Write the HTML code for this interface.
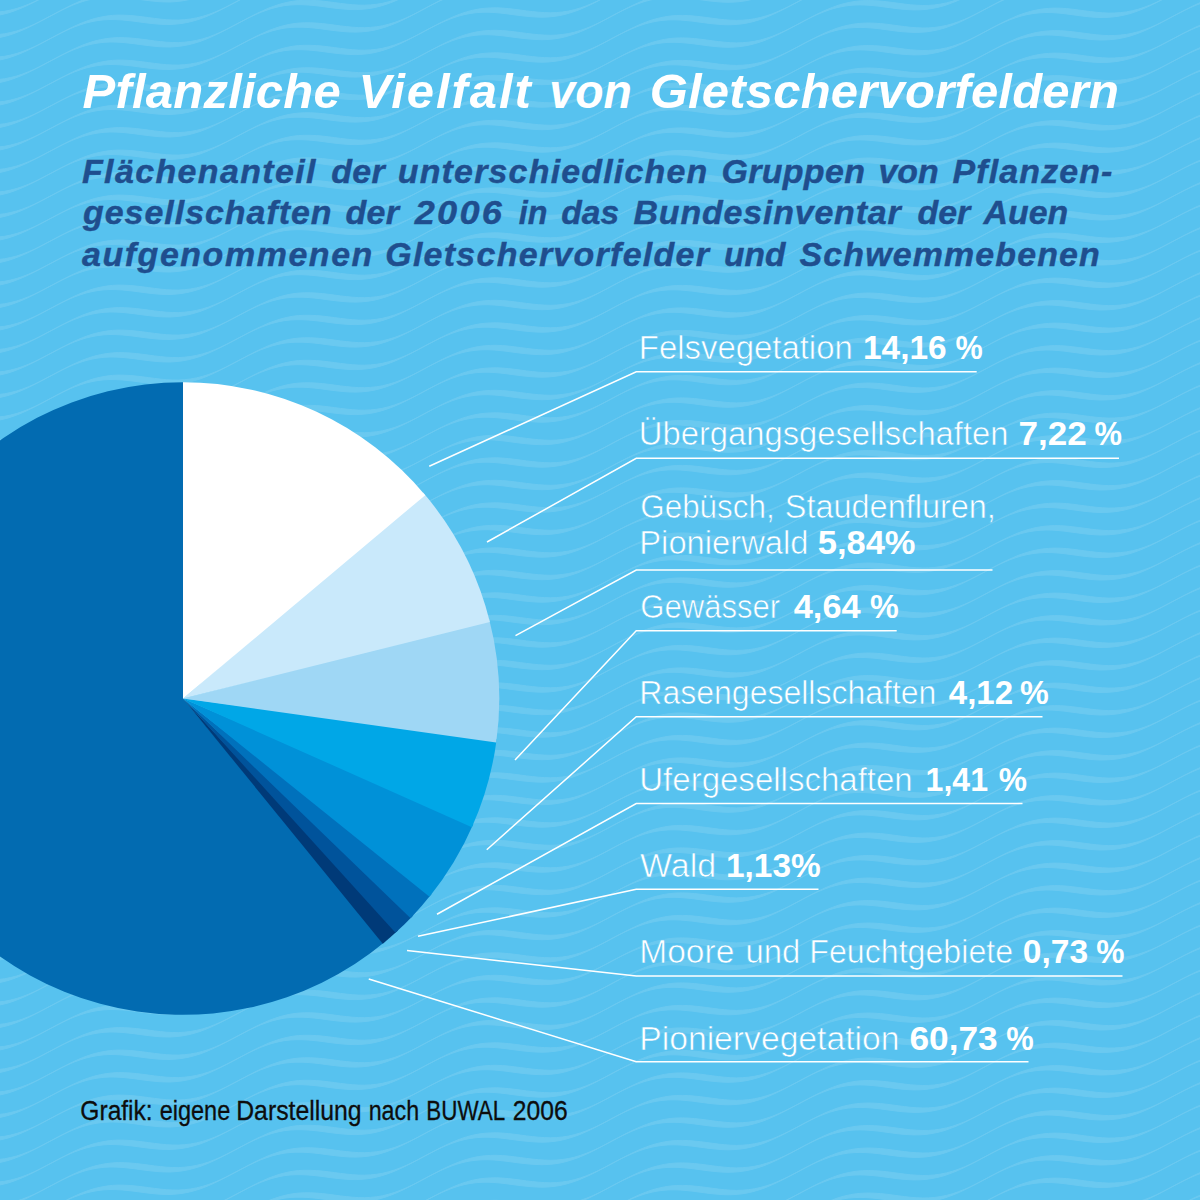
<!DOCTYPE html>
<html lang="de"><head><meta charset="utf-8"><title>Pflanzliche Vielfalt von Gletschervorfeldern</title>
<style>
html,body{margin:0;padding:0;background:#57C2EF;}
body{width:1200px;height:1200px;overflow:hidden;font-family:"Liberation Sans",sans-serif;}
svg{display:block;}
text{font-family:"Liberation Sans",sans-serif;white-space:pre;}
.n{font-size:33.5px;fill:#fff;stroke:#57C2EF;stroke-width:.6px;paint-order:fill stroke;}
.b{font-size:33.5px;font-weight:bold;fill:#fff;}
.t{font-weight:bold;font-style:italic;font-size:49px;fill:#fff;}
.s{font-weight:bold;font-style:italic;font-size:33px;fill:#1F4E8E;stroke:#1F4E8E;stroke-width:.4px;}
.f{font-size:27.5px;fill:#0d0d0d;stroke:#0d0d0d;stroke-width:.3px;}
.ld polyline{fill:none;stroke:#fff;stroke-width:1.5;stroke-linejoin:miter;}
</style></head><body>
<svg width="1200" height="1200" viewBox="0 0 1200 1200">
<defs><path id="wl" d="M-40.0 206.7L-34.0 207.4L-28.0 207.9L-22.0 208.2L-16.0 208.1L-10.0 207.7L-4.0 207.0L2.0 205.8L8.0 204.3L14.0 202.3L20.0 200.0L26.0 197.4L32.0 194.5L38.0 191.4L44.0 188.2L50.0 185.0L56.0 181.9L62.0 178.8L68.0 176.0L74.0 173.4L80.0 171.2L86.0 169.3L92.0 167.9L98.0 166.8L104.0 166.1L110.0 165.8L116.0 165.9L122.0 166.2L128.0 166.8L134.0 167.5L140.0 168.3L146.0 169.1L152.0 169.8L158.0 170.4L164.0 170.7L170.0 170.8L176.0 170.4L182.0 169.7L188.0 168.6L194.0 167.1L200.0 165.3L206.0 163.0L212.0 160.4L218.0 157.6L224.0 154.5L230.0 151.4L236.0 148.2L242.0 145.0L248.0 141.9L254.0 139.1L260.0 136.4L266.0 134.2L272.0 132.2L278.0 130.7L284.0 129.5L290.0 128.8L296.0 128.5L302.0 128.5L308.0 128.8L314.0 129.3L320.0 130.0L326.0 130.8L332.0 131.6L338.0 132.3L344.0 132.9L350.0 133.3L356.0 133.4L362.0 133.1L368.0 132.5L374.0 131.5L380.0 130.0L386.0 128.2L392.0 126.0L398.0 123.5L404.0 120.7L410.0 117.7L416.0 114.5L422.0 111.3L428.0 108.1L434.0 105.0L440.0 102.1L446.0 99.5L452.0 97.1L458.0 95.1L464.0 93.5L470.0 92.3L476.0 91.5L482.0 91.1L488.0 91.0L494.0 91.3L500.0 91.8L506.0 92.5L512.0 93.3L518.0 94.1L524.0 94.8L530.0 95.4L536.0 95.8L542.0 96.0L548.0 95.8L554.0 95.2L560.0 94.3L566.0 92.9L572.0 91.1L578.0 89.0L584.0 86.5L590.0 83.8L596.0 80.8L602.0 77.6L608.0 74.4L614.0 71.2L620.0 68.1L626.0 65.2L632.0 62.5L638.0 60.1L644.0 58.0L650.0 56.4L656.0 55.1L662.0 54.2L668.0 53.7L674.0 53.6L680.0 53.8L686.0 54.3L692.0 54.9L698.0 55.7L704.0 56.5L710.0 57.3L716.0 57.9L722.0 58.4L728.0 58.6L734.0 58.4L740.0 57.9L746.0 57.0L752.0 55.7L758.0 54.0L764.0 52.0L770.0 49.5L776.0 46.8L782.0 43.9L788.0 40.8L794.0 37.6L800.0 34.4L806.0 31.2L812.0 28.3L818.0 25.5L824.0 23.1L830.0 20.9L836.0 19.2L842.0 17.9L848.0 16.9L854.0 16.4L860.0 16.2L866.0 16.4L872.0 16.8L878.0 17.4L884.0 18.2L890.0 19.0L896.0 19.8L902.0 20.5L908.0 20.9L914.0 21.2L920.0 21.1L926.0 20.7L932.0 19.8L938.0 18.6L944.0 17.0L950.0 14.9L956.0 12.6L962.0 9.9L968.0 7.0L974.0 3.9L980.0 0.7L986.0 -2.5L992.0 -5.7L998.0 -8.7L1004.0 -11.4L1010.0 -14.0L1016.0 -16.1L1022.0 -17.9L1028.0 -19.3L1034.0 -20.3L1040.0 -20.9L1046.0 -21.2L1052.0 -21.1L1058.0 -20.7L1064.0 -20.1L1070.0 -19.3L1076.0 -18.5L1082.0 -17.7L1088.0 -17.0L1094.0 -16.5L1100.0 -16.2L1106.0 -16.3L1112.0 -16.7L1118.0 -17.4L1124.0 -18.6L1130.0 -20.1L1136.0 -22.1L1142.0 -24.4L1148.0 -27.0L1154.0 -29.9L1160.0 -33.0L1166.0 -36.2L1172.0 -39.4L1178.0 -42.5L1184.0 -45.6L1190.0 -48.4L1196.0 -51.0L1202.0 -53.2L1208.0 -55.1L1214.0 -56.5L1220.0 -57.6L1226.0 -58.3L1232.0 -58.6L1238.0 -58.5L1244.0 -58.2L1250.0 -57.6L1258.4 -62.0L1252.4 -62.6L1246.4 -62.9L1240.4 -63.0L1234.4 -62.7L1228.4 -62.0L1222.4 -60.9L1216.4 -59.5L1210.4 -57.6L1204.4 -55.4L1198.4 -52.8L1192.4 -50.0L1186.4 -46.9L1180.4 -43.8L1174.4 -40.6L1168.4 -37.4L1162.4 -34.3L1156.4 -31.4L1150.4 -28.8L1144.4 -26.5L1138.4 -24.5L1132.4 -23.0L1126.4 -21.8L1120.4 -21.1L1114.4 -20.7L1108.4 -20.6L1102.4 -20.9L1096.4 -21.4L1090.4 -22.1L1084.4 -22.9L1078.4 -23.7L1072.4 -24.5L1066.4 -25.1L1060.4 -25.5L1054.4 -25.6L1048.4 -25.3L1042.4 -24.7L1036.4 -23.7L1030.4 -22.3L1024.4 -20.5L1018.4 -18.4L1012.4 -15.8L1006.4 -13.1L1000.4 -10.1L994.4 -6.9L988.4 -3.7L982.4 -0.5L976.4 2.6L970.4 5.5L964.4 8.2L958.4 10.5L952.4 12.6L946.4 14.2L940.4 15.4L934.4 16.3L928.4 16.7L922.4 16.8L916.4 16.5L910.4 16.1L904.4 15.4L898.4 14.6L892.4 13.8L886.4 13.0L880.4 12.4L874.4 12.0L868.4 11.8L862.4 12.0L856.4 12.5L850.4 13.5L844.4 14.8L838.4 16.5L832.4 18.7L826.4 21.1L820.4 23.9L814.4 26.8L808.4 30.0L802.4 33.2L796.4 36.4L790.4 39.5L784.4 42.4L778.4 45.1L772.4 47.6L766.4 49.6L760.4 51.3L754.4 52.6L748.4 53.5L742.4 54.0L736.4 54.2L730.4 54.0L724.4 53.5L718.4 52.9L712.4 52.1L706.4 51.3L700.4 50.5L694.4 49.9L688.4 49.4L682.4 49.2L676.4 49.3L670.4 49.8L664.4 50.7L658.4 52.0L652.4 53.6L646.4 55.7L640.4 58.1L634.4 60.8L628.4 63.7L622.4 66.8L616.4 70.0L610.4 73.2L604.4 76.4L598.4 79.4L592.4 82.1L586.4 84.6L580.4 86.7L574.4 88.5L568.4 89.9L562.4 90.8L556.4 91.4L550.4 91.6L544.4 91.4L538.4 91.0L532.4 90.4L526.4 89.7L520.4 88.9L514.4 88.1L508.4 87.4L502.4 86.9L496.4 86.6L490.4 86.7L484.4 87.1L478.4 87.9L472.4 89.1L466.4 90.7L460.4 92.7L454.4 95.1L448.4 97.7L442.4 100.6L436.4 103.7L430.4 106.9L424.4 110.1L418.4 113.3L412.4 116.3L406.4 119.1L400.4 121.6L394.4 123.8L388.4 125.6L382.4 127.1L376.4 128.1L370.4 128.7L364.4 129.0L358.4 128.9L352.4 128.5L346.4 127.9L340.4 127.2L334.4 126.4L328.4 125.6L322.4 124.9L316.4 124.4L310.4 124.1L304.4 124.1L298.4 124.4L292.4 125.1L286.4 126.3L280.4 127.8L274.4 129.8L268.4 132.0L262.4 134.7L256.4 137.5L250.4 140.6L244.4 143.8L238.4 147.0L232.4 150.1L226.4 153.2L220.4 156.0L214.4 158.6L208.4 160.9L202.4 162.7L196.4 164.2L190.4 165.3L184.4 166.0L178.4 166.4L172.4 166.3L166.4 166.0L160.4 165.4L154.4 164.7L148.4 163.9L142.4 163.1L136.4 162.4L130.4 161.8L124.4 161.5L118.4 161.4L112.4 161.7L106.4 162.4L100.4 163.5L94.4 164.9L88.4 166.8L82.4 169.0L76.4 171.6L70.4 174.4L64.4 177.5L58.4 180.6L52.4 183.8L46.4 187.0L40.4 190.1L34.4 193.0L28.4 195.6L22.4 197.9L16.4 199.9L10.4 201.4L4.4 202.6L-1.6 203.3L-7.6 203.7L-13.6 203.8L-19.6 203.5L-25.6 203.0L-31.6 202.3Z"/></defs>
<rect width="1200" height="1200" fill="#57C2EF"/>
<g opacity=".115" fill="#fff" stroke="#fff" stroke-width="1" stroke-linejoin="round"><use href="#wl" y="-258.8"/><use href="#wl" y="-236.3"/><use href="#wl" y="-213.8"/><use href="#wl" y="-191.3"/><use href="#wl" y="-168.8"/><use href="#wl" y="-146.3"/><use href="#wl" y="-123.8"/><use href="#wl" y="-101.3"/><use href="#wl" y="-78.8"/><use href="#wl" y="-56.3"/><use href="#wl" y="-33.8"/><use href="#wl" y="-11.3"/><use href="#wl" y="11.2"/><use href="#wl" y="33.7"/><use href="#wl" y="56.2"/><use href="#wl" y="78.7"/><use href="#wl" y="101.2"/><use href="#wl" y="123.7"/><use href="#wl" y="146.2"/><use href="#wl" y="168.7"/><use href="#wl" y="191.2"/><use href="#wl" y="213.7"/><use href="#wl" y="236.2"/><use href="#wl" y="258.7"/><use href="#wl" y="281.2"/><use href="#wl" y="303.7"/><use href="#wl" y="326.2"/><use href="#wl" y="348.7"/><use href="#wl" y="371.2"/><use href="#wl" y="393.7"/><use href="#wl" y="416.2"/><use href="#wl" y="438.7"/><use href="#wl" y="461.2"/><use href="#wl" y="483.7"/><use href="#wl" y="506.2"/><use href="#wl" y="528.7"/><use href="#wl" y="551.2"/><use href="#wl" y="573.7"/><use href="#wl" y="596.2"/><use href="#wl" y="618.7"/><use href="#wl" y="641.2"/><use href="#wl" y="663.7"/><use href="#wl" y="686.2"/><use href="#wl" y="708.7"/><use href="#wl" y="731.2"/><use href="#wl" y="753.7"/><use href="#wl" y="776.2"/><use href="#wl" y="798.7"/><use href="#wl" y="821.2"/><use href="#wl" y="843.7"/><use href="#wl" y="866.2"/><use href="#wl" y="888.7"/><use href="#wl" y="911.2"/><use href="#wl" y="933.7"/><use href="#wl" y="956.2"/><use href="#wl" y="978.7"/><use href="#wl" y="1001.2"/><use href="#wl" y="1023.7"/><use href="#wl" y="1046.2"/><use href="#wl" y="1068.7"/><use href="#wl" y="1091.2"/><use href="#wl" y="1113.7"/><use href="#wl" y="1136.2"/><use href="#wl" y="1158.7"/><use href="#wl" y="1181.2"/><use href="#wl" y="1203.7"/><use href="#wl" y="1226.2"/><use href="#wl" y="1248.7"/><use href="#wl" y="1271.2"/><use href="#wl" y="1293.7"/></g>
<g>
<path d="M183.0 698.5L385.35 941.61A316.3 316.3 0 1 1 183.00 382.20Z" fill="#026BB1"/>
<path d="M183.0 698.5L397.91 930.58A316.3 316.3 0 0 1 382.79 943.71Z" fill="#003A78"/>
<path d="M183.0 698.5L412.89 915.75A316.3 316.3 0 0 1 395.47 932.82Z" fill="#00539B"/>
<path d="M183.0 698.5L431.55 894.12A316.3 316.3 0 0 1 410.60 918.14Z" fill="#0071BC"/>
<path d="M183.0 698.5L473.24 824.21A316.3 316.3 0 0 1 429.49 896.71Z" fill="#0091D8"/>
<path d="M183.0 698.5L496.66 739.30A316.3 316.3 0 0 1 471.91 827.25Z" fill="#00A7E7"/>
<path d="M183.0 698.5L489.06 618.68A316.3 316.3 0 0 1 496.21 742.58Z" fill="#9FD7F5"/>
<path d="M183.0 698.5L423.11 492.60A316.3 316.3 0 0 1 489.88 621.89Z" fill="#C9E9FB"/>
<path d="M183.0 698.5L183.00 382.20A316.3 316.3 0 0 1 425.25 495.13Z" fill="#FFFFFF"/>
</g>
<g class="ld">
<polyline points="429.25,466.25 636.25,371.8 976.7,371.8"/>
<polyline points="487,542 636.25,458.3 1119,458.3"/>
<polyline points="515.5,635.6 636.25,570 992.5,570"/>
<polyline points="515,760 636.25,630.7 896.7,630.7"/>
<polyline points="486.75,849.7 636.25,716.7 1042.5,716.7"/>
<polyline points="437,914.25 636.25,803.5 1022.5,803.5"/>
<polyline points="418,936.25 636.25,889.3 818.5,889.3"/>
<polyline points="407,950.5 636.25,976 1122.5,976"/>
<polyline points="368.75,979 636.25,1061.7 1028.5,1061.7"/>
</g>
<text class="t" transform="translate(82.50 108) scale(1.0000 1)" letter-spacing="0.229">Pflanzliche</text>
<text class="t" transform="translate(358.50 108) scale(1.0000 1)" letter-spacing="1.925">Vielfalt</text>
<text class="t" transform="translate(549.36 108) scale(0.9467 1)">von</text>
<text class="t" transform="translate(649.75 108) scale(1.0000 1)" letter-spacing="0.195">Gletschervorfeldern</text>
<text class="s" transform="translate(82.00 183) scale(1.0300 1)" letter-spacing="1.329">Flächenanteil</text>
<text class="s" transform="translate(331.25 183) scale(1.0300 1)" letter-spacing="0.308">der</text>
<text class="s" transform="translate(397.72 183) scale(1.0300 1)" letter-spacing="1.144">unterschiedlichen</text>
<text class="s" transform="translate(721.47 183) scale(1.0300 1)" letter-spacing="0.300">Gruppen</text>
<text class="s" transform="translate(878.47 183) scale(1.0264 1)">von</text>
<text class="s" transform="translate(952.50 183) scale(1.0300 1)" letter-spacing="1.081">Pflanzen-</text>
<text class="s" transform="translate(83.03 224.25) scale(1.0300 1)" letter-spacing="0.935">gesellschaften</text>
<text class="s" transform="translate(345.50 224.25) scale(1.0300 1)" letter-spacing="0.308">der</text>
<text class="s" transform="translate(414.84 224.25) scale(1.0949 1)" letter-spacing="2.000">2006</text>
<text class="s" transform="translate(518.75 224.25) scale(0.9763 1)">in</text>
<text class="s" transform="translate(561.25 224.25) scale(1.0175 1)">das</text>
<text class="s" transform="translate(633.50 224.25) scale(1.0300 1)" letter-spacing="0.778">Bundesinventar</text>
<text class="s" transform="translate(917.50 224.25) scale(1.0278 1)">der</text>
<text class="s" transform="translate(983.53 224.25) scale(1.0262 1)">Auen</text>
<text class="s" transform="translate(82.00 265.5) scale(1.0300 1)" letter-spacing="1.496">aufgenommenen</text>
<text class="s" transform="translate(385.22 265.5) scale(1.0300 1)" letter-spacing="1.231">Gletschervorfelder</text>
<text class="s" transform="translate(723.98 265.5) scale(1.0155 1)">und</text>
<text class="s" transform="translate(799.50 265.5) scale(1.0300 1)" letter-spacing="1.078">Schwemmebenen</text>
<text class="n" transform="translate(638.79 359.1) scale(0.9825 1)">Felsvegetation</text>
<text class="b" transform="translate(863.00 359.1) scale(0.9975 1)">14,16</text>
<text class="b" transform="translate(955.50 359.1) scale(0.9138 1)">%</text>
<text class="n" transform="translate(638.79 445.4) scale(0.9782 1)">Übergangsgesellschaften</text>
<text class="b" transform="translate(1018.45 445.4) scale(1.0461 1)">7,22</text>
<text class="b" transform="translate(1094.50 445.4) scale(0.9224 1)">%</text>
<text class="n" transform="translate(640.31 518.3) scale(0.9370 1)">Gebüsch,</text>
<text class="n" transform="translate(784.78 518.3) scale(0.9692 1)">Staudenfluren,</text>
<text class="n" transform="translate(639.29 554.3) scale(0.9776 1)">Pionierwald</text>
<text class="b" transform="translate(817.72 554.3) scale(1.0300 1)">5,84%</text>
<text class="n" transform="translate(640.32 617.8) scale(0.9272 1)">Gewässer</text>
<text class="b" transform="translate(793.75 617.8) scale(1.0256 1)">4,64</text>
<text class="b" transform="translate(870.00 617.8) scale(0.9655 1)">%</text>
<text class="n" transform="translate(639.34 704.3) scale(0.9557 1)">Rasengesellschaften</text>
<text class="b" transform="translate(948.75 704.3) scale(0.9873 1)">4,12</text>
<text class="b" transform="translate(1020.00 704.3) scale(0.9655 1)">%</text>
<text class="n" transform="translate(639.28 790.7) scale(0.9860 1)">Ufergesellschaften</text>
<text class="b" transform="translate(925.58 790.7) scale(0.9589 1)">1,41</text>
<text class="b" transform="translate(998.75 790.7) scale(0.9483 1)">%</text>
<text class="n" transform="translate(640.00 877) scale(1.0143 1)">Wald</text>
<text class="b" transform="translate(726.00 877) scale(0.9978 1)">1,13%</text>
<text class="n" transform="translate(639.25 963.2) scale(1.0019 1)">Moore</text>
<text class="n" transform="translate(745.54 963.2) scale(0.9806 1)">und</text>
<text class="n" transform="translate(809.33 963.2) scale(0.9598 1)">Feuchtgebiete</text>
<text class="b" transform="translate(1022.75 963.2) scale(1.0028 1)">0,73</text>
<text class="b" transform="translate(1096.25 963.2) scale(0.9483 1)">%</text>
<text class="n" transform="translate(639.24 1049.6) scale(1.0059 1)">Pioniervegetation</text>
<text class="b" transform="translate(909.45 1049.6) scale(1.0523 1)">60,73</text>
<text class="b" transform="translate(1006.25 1049.6) scale(0.9224 1)">%</text>
<text class="f" transform="translate(80.36 1119.7) scale(0.8935 1)">Grafik:</text>
<text class="f" transform="translate(159.64 1119.7) scale(0.8550 1)">eigene</text>
<text class="f" transform="translate(236.20 1119.7) scale(0.9020 1)">Darstellung</text>
<text class="f" transform="translate(368.65 1119.7) scale(0.8459 1)">nach</text>
<text class="f" transform="translate(426.37 1119.7) scale(0.8150 1)">BUWAL</text>
<text class="f" transform="translate(512.85 1119.7) scale(0.8976 1)">2006</text>
</svg>
</body></html>
